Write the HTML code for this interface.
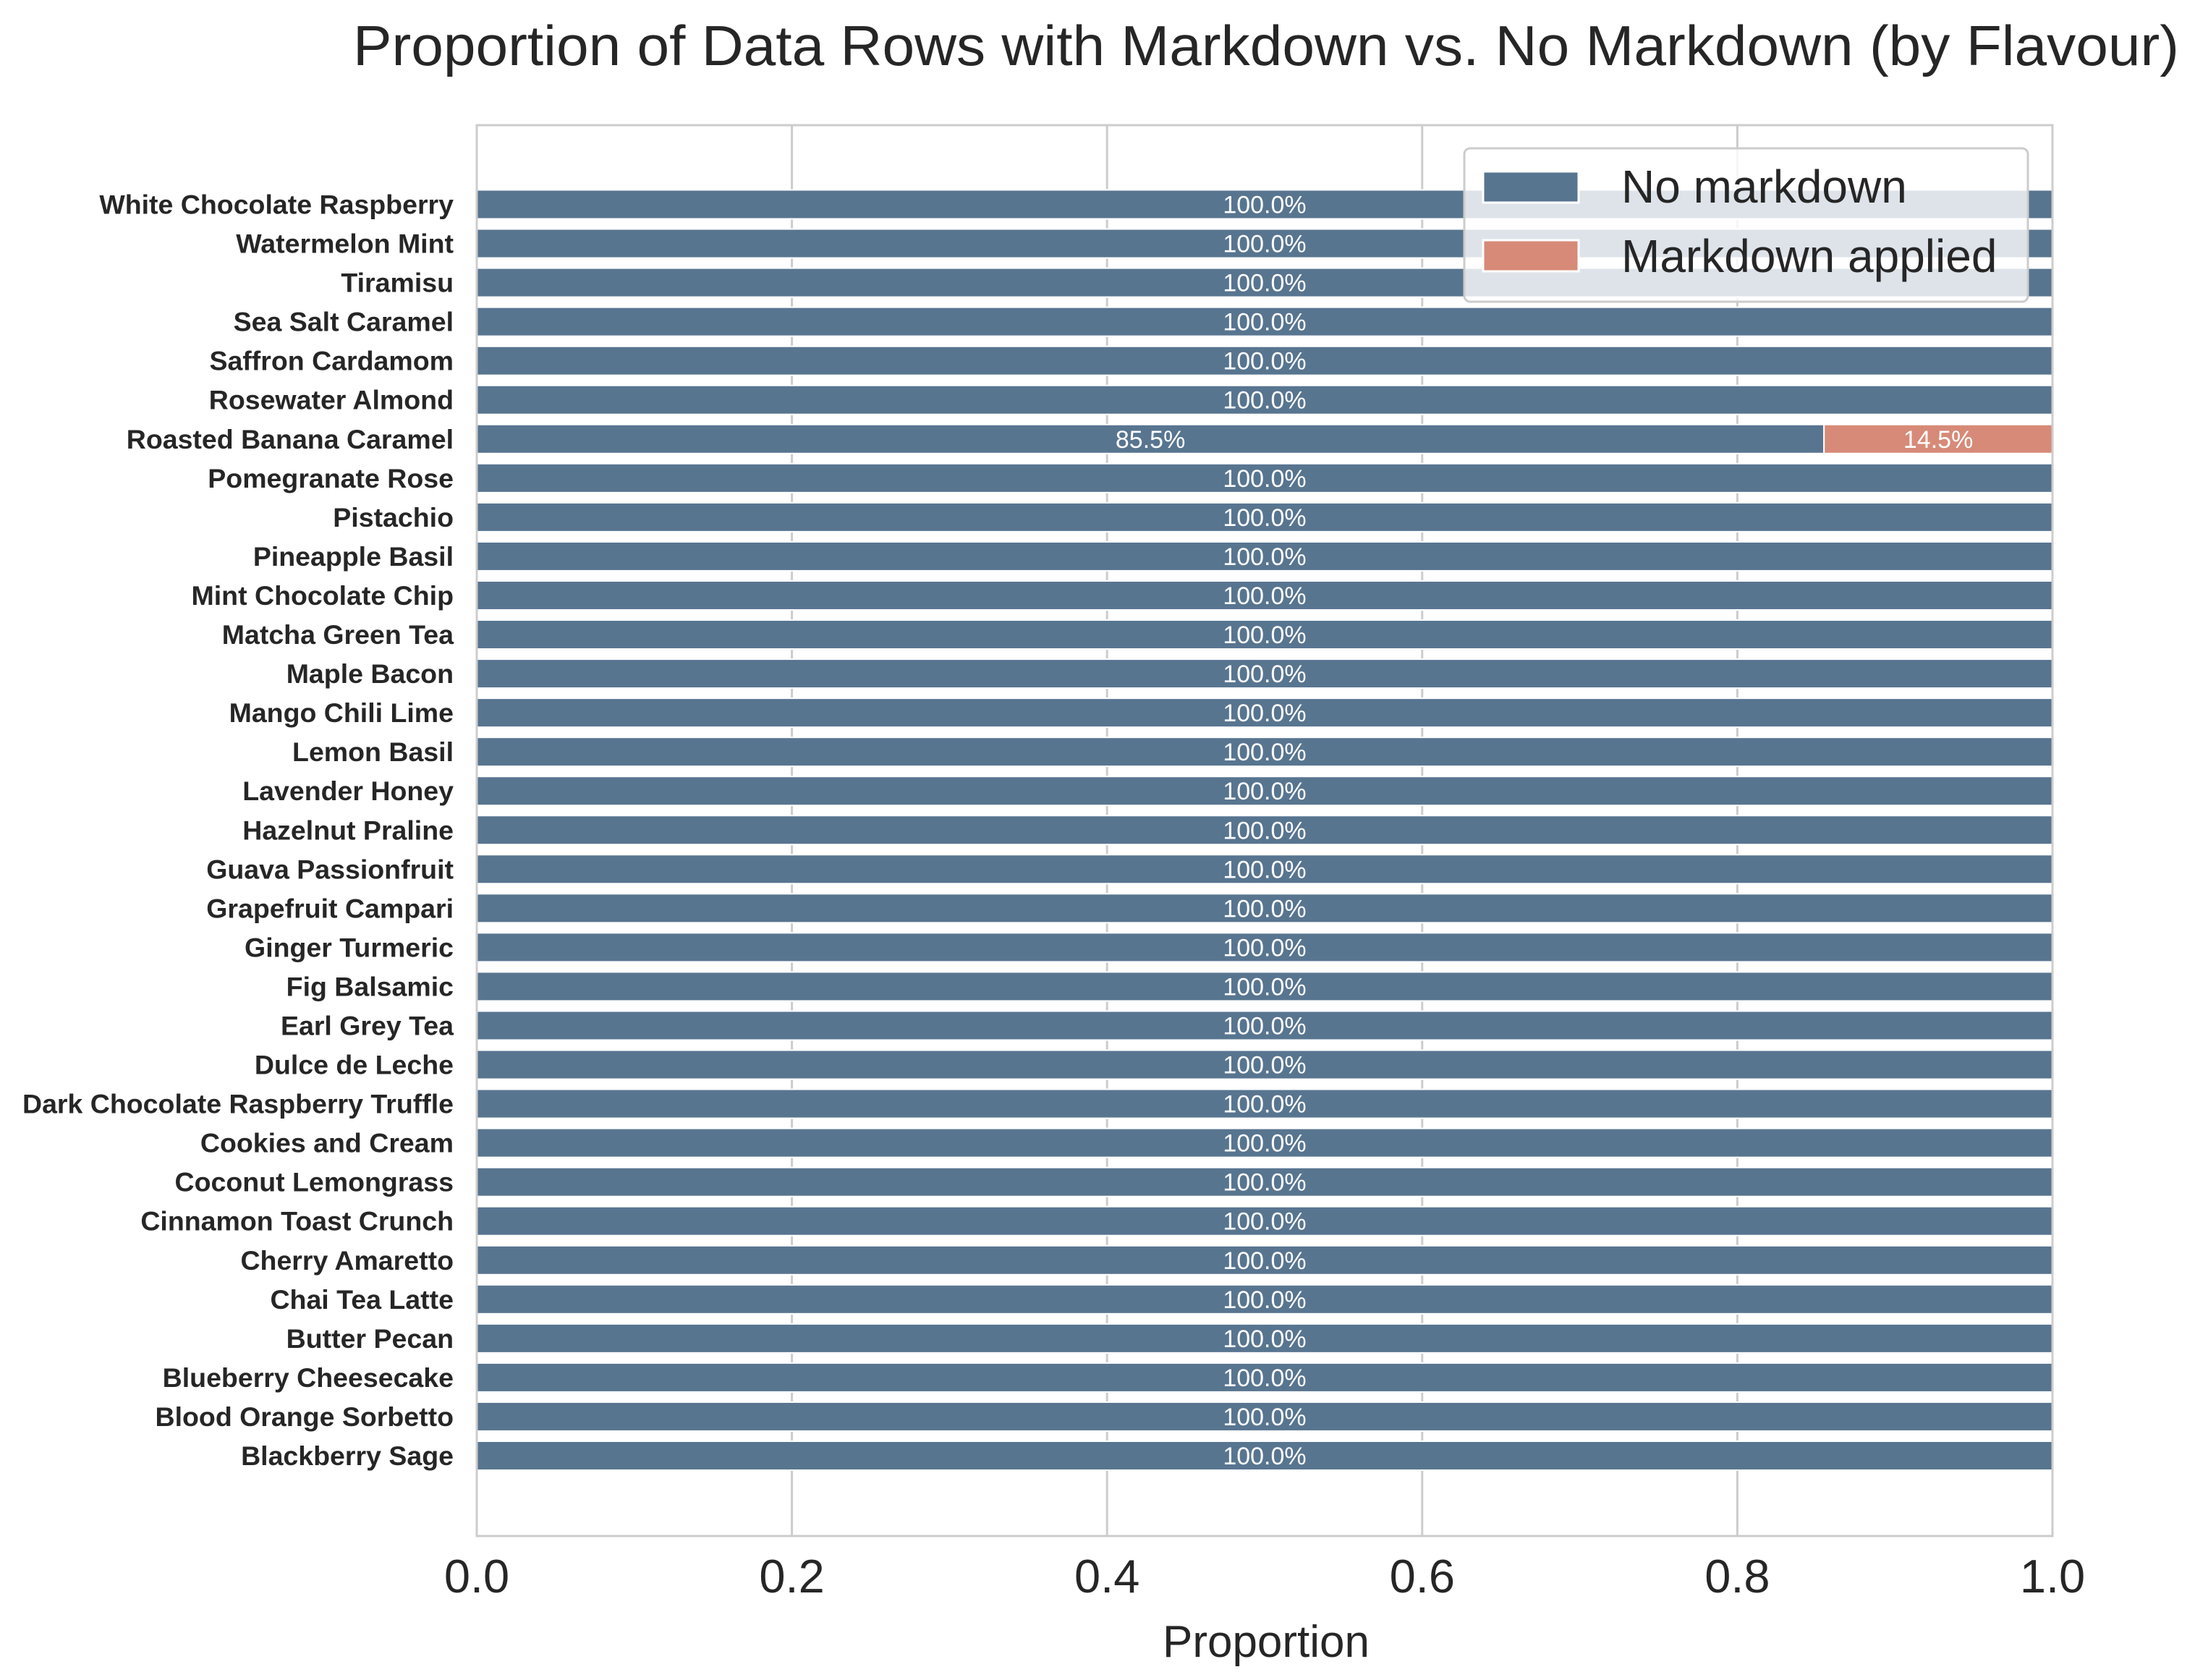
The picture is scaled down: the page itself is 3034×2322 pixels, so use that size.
<!DOCTYPE html>
<html><head><meta charset="utf-8"><style>
html,body{margin:0;padding:0;background:#fff;}
svg{display:block;font-family:"Liberation Sans",sans-serif;}
</style></head><body>
<svg id="chart" width="3034" height="2322" viewBox="0 0 3034 2322" xmlns="http://www.w3.org/2000/svg">
<rect width="3034" height="2322" fill="#fff"/>
<text x="1750" y="90" font-size="78" fill="#262626" text-anchor="middle" textLength="2524" lengthAdjust="spacingAndGlyphs">Proportion of Data Rows with Markdown vs. No Markdown (by Flavour)</text>
<g id="grid"></g>
<g id="bars"></g>
<g id="ylabels"></g>
<g id="xticks"></g>
<rect x="659" y="173" width="2178" height="1950" fill="none" stroke="#cccccc" stroke-width="3"/>
<text x="1750" y="2290" font-size="62" fill="#262626" text-anchor="middle">Proportion</text>
<g>
<rect x="2024" y="205" width="779" height="212" rx="8" fill="#ffffff" fill-opacity="0.8" stroke="#cccccc" stroke-width="3"/>
<g>
<rect x="2050" y="237" width="132" height="43" fill="#587590" stroke="#fff" stroke-width="3"/>
<text x="2241" y="280" font-size="64" fill="#262626">No markdown</text>
</g>
<g>
<rect x="2050" y="332" width="132" height="43" fill="#d78a78" stroke="#fff" stroke-width="3"/>
<text x="2241" y="376" font-size="64" fill="#262626">Markdown applied</text>
</g>
</g>
</svg>
<script>
const flavours = ["White Chocolate Raspberry","Watermelon Mint","Tiramisu","Sea Salt Caramel","Saffron Cardamom","Rosewater Almond","Roasted Banana Caramel","Pomegranate Rose","Pistachio","Pineapple Basil","Mint Chocolate Chip","Matcha Green Tea","Maple Bacon","Mango Chili Lime","Lemon Basil","Lavender Honey","Hazelnut Praline","Guava Passionfruit","Grapefruit Campari","Ginger Turmeric","Fig Balsamic","Earl Grey Tea","Dulce de Leche","Dark Chocolate Raspberry Truffle","Cookies and Cream","Coconut Lemongrass","Cinnamon Toast Crunch","Cherry Amaretto","Chai Tea Latte","Butter Pecan","Blueberry Cheesecake","Blood Orange Sorbetto","Blackberry Sage"];
const noMarkdown = [1,1,1,1,1,1,0.855,1,1,1,1,1,1,1,1,1,1,1,1,1,1,1,1,1,1,1,1,1,1,1,1,1,1];
const markdownApplied = [0,0,0,0,0,0,0.145,0,0,0,0,0,0,0,0,0,0,0,0,0,0,0,0,0,0,0,0,0,0,0,0,0,0];
const xTicks = [0,0.2,0.4,0.6,0.8,1.0];
const xTickLabels = ["0.0","0.2","0.4","0.6","0.8","1.0"];

const NS = "http://www.w3.org/2000/svg";
const X0 = 659, X1 = 2837, Y0 = 173, Y1 = 2123;
const xs = v => X0 + v * (X1 - X0);
const firstC = 282.5, lastC = 2012;
const pitch = (lastC - firstC) / (flavours.length - 1);
const yc = i => firstC + i * pitch;
const barH = 40;
function mk(tag, attrs, parent){const e=document.createElementNS(NS,tag);for(const k in attrs)e.setAttribute(k,attrs[k]);parent.appendChild(e);return e;}

const grid = document.getElementById('grid');
xTicks.forEach((t,i)=>{
  const l = mk('line',{x1:xs(t),x2:xs(t),y1:Y0,y2:Y1,stroke:'#cccccc','stroke-width':3},grid);
  
  
  const tx = mk('text',{x:xs(t),y:2201,'font-size':65,fill:'#262626','text-anchor':'middle'},document.getElementById('xticks'));
  tx.textContent = xTickLabels[i];
  
  
});

const bars = document.getElementById('bars');
const yl = document.getElementById('ylabels');
flavours.forEach((f,i)=>{
  const c = yc(i);
  const a = noMarkdown[i], b = markdownApplied[i];
  const r1 = mk('rect',{x:xs(0),y:c-barH/2,width:xs(a)-xs(0),height:barH,fill:'#587590',stroke:'#fff','stroke-width':2},bars);
  
  
  if(a>0){
    const t = mk('text',{x:xs(a/2),y:c+12,'font-size':34,fill:'#fff','text-anchor':'middle'},bars);
    t.textContent = (a*100).toFixed(1)+'%';
    
    
  }
  if(b>0){
    const r2 = mk('rect',{x:xs(a),y:c-barH/2,width:xs(a+b)-xs(a),height:barH,fill:'#d78a78',stroke:'#fff','stroke-width':2},bars);
    
    
    const t2 = mk('text',{x:xs(a+b/2),y:c+12,'font-size':34,fill:'#fff','text-anchor':'middle'},bars);
    t2.textContent = (b*100).toFixed(1)+'%';
    
    
  }
  const lab = mk('text',{x:627,y:c+13,'font-size':37.5,'font-weight':'bold',fill:'#262626','text-anchor':'end'},yl);
  lab.textContent = f;
  
  
});
</script>
</body></html>
